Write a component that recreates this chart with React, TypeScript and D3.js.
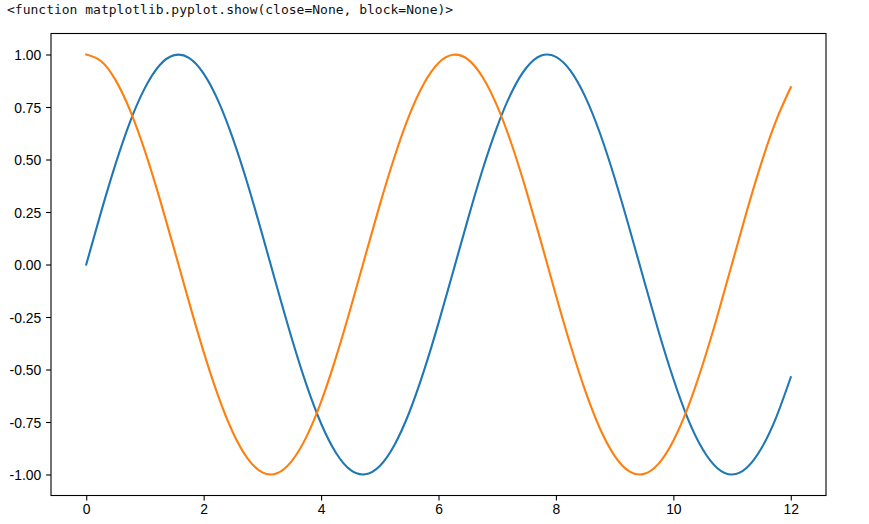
import React, { useEffect, useRef } from "react";
import * as d3 from "d3";

// samples, every 0.25 on x
const xValues = d3.range(0, 12.001, 0.25);
const blueValues = [
  0, 0.247, 0.479, 0.682, 0.841, 0.949, 0.997, 0.984, 0.909, 0.778, 0.598, 0.382, 0.141,
  -0.108, -0.351, -0.572, -0.757, -0.895, -0.978, -0.999, -0.959, -0.859, -0.706, -0.508,
  -0.279, -0.033, 0.215, 0.451, 0.657, 0.823, 0.938, 0.995, 0.989, 0.922, 0.798, 0.625,
  0.412, 0.174, -0.075, -0.32, -0.544, -0.736, -0.88, -0.97, -1.0, -0.968, -0.875, -0.729,
  -0.537,
];
const orangeValues = [
  1, 0.969, 0.878, 0.732, 0.54, 0.315, 0.071, -0.178, -0.416, -0.628, -0.801, -0.924,
  -0.99, -0.994, -0.936, -0.821, -0.654, -0.446, -0.211, 0.038, 0.284, 0.512, 0.709,
  0.861, 0.96, 0.999, 0.977, 0.893, 0.754, 0.569, 0.347, 0.104, -0.146, -0.386, -0.602,
  -0.781, -0.911, -0.985, -0.997, -0.948, -0.839, -0.679, -0.476, -0.245, 0.004, 0.253,
  0.484, 0.685, 0.844,
];
const xTicks = [0, 2, 4, 6, 8, 10, 12];
const yTicks = [-1, -0.75, -0.5, -0.25, 0, 0.25, 0.5, 0.75, 1];
const title = "<function matplotlib.pyplot.show(close=None, block=None)>";

const W = 869;
const H = 524;
const frame = { left: 51, top: 33.5, right: 826, bottom: 495.5 };

const App = () => {
  const ref = useRef<SVGSVGElement>(null);

  useEffect(() => {
    const svg = d3.select(ref.current);
    svg.selectAll("*").remove();

    const x = d3.scaleLinear().domain([-0.6, 12.6]).range([frame.left, frame.right]);
    const y = d3.scaleLinear().domain([-1.1, 1.1]).range([frame.bottom, frame.top]);

    svg
      .append("text")
      .attr("x", 7)
      .attr("y", 14)
      .attr("font-family", "DejaVu Sans Mono, monospace")
      .attr("font-size", 13)
      .attr("fill", "#111")
      .text(title);

    const line = d3
      .line<number>()
      .x((d, i) => x(xValues[i]))
      .y((d) => y(d))
      .curve(d3.curveNatural);

    const series = [
      { values: blueValues, color: "#1f77b4" },
      { values: orangeValues, color: "#ff7f0e" },
    ];
    series.forEach((s) => {
      svg
        .append("path")
        .datum(s.values)
        .attr("d", line)
        .attr("fill", "none")
        .attr("stroke", s.color)
        .attr("stroke-width", 2.1)
        .attr("stroke-linejoin", "round")
        .attr("stroke-linecap", "square");
    });

    // axes, matplotlib-like ticks
    const fmtY = (d: number) => d3.format(".2f")(d).replace("\u2212", "-");
    const xAxis = svg
      .append("g")
      .attr("transform", `translate(0,${frame.bottom})`)
      .call(d3.axisBottom(x).tickValues(xTicks).tickSize(4.9).tickPadding(3.5).tickFormat(d3.format("d")));
    const yAxis = svg
      .append("g")
      .attr("transform", `translate(${frame.left},0)`)
      .call(d3.axisLeft(y).tickValues(yTicks).tickSize(4.9).tickPadding(4.9).tickFormat(fmtY as any));

    [xAxis, yAxis].forEach((g) => {
      g.select(".domain").remove();
      g.selectAll(".tick line").attr("stroke", "#000").attr("stroke-width", 1.1);
      g.selectAll(".tick text")
        .attr("font-family", "Liberation Sans, Arial, sans-serif")
        .attr("font-size", 13.9)
        .attr("fill", "#000");
    });
    yAxis.selectAll(".tick text").attr("dy", "0.36em");

    svg
      .append("rect")
      .attr("x", frame.left)
      .attr("y", frame.top)
      .attr("width", frame.right - frame.left)
      .attr("height", frame.bottom - frame.top)
      .attr("fill", "none")
      .attr("stroke", "#000")
      .attr("stroke-width", 1.1);
  }, []);

  return (
    <svg
      ref={ref}
      width={W}
      height={H}
      style={{ position: "absolute", left: 0, top: 0, background: "#fff" }}
    />
  );
};

export default App;
